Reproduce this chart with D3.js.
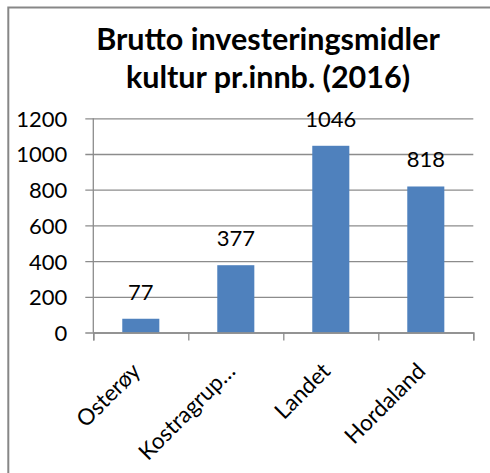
<!DOCTYPE html>
<html>
<head>
<meta charset="utf-8">
<script src="https://cdn.jsdelivr.net/npm/d3@7"></script>
<style>
  body { margin: 0; background: #fff; }
  text { font-family: Lato, "Liberation Sans", sans-serif; fill: #000; }
</style>
</head>
<body>
<div id="chart"></div>
<script>
var categories = ["Osterøy", "Kostragrup…", "Landet", "Hordaland"];
var values = [77, 377, 1046, 818];
var yTicks = [0, 200, 400, 600, 800, 1000, 1200];
var titleLines = ["Brutto investeringsmidler", "kultur pr.innb. (2016)"];

var W = 490, H = 473;
var margin = { top: 118.3, left: 93.3 };
var width = 380, height = 214.2;

var svg = d3.select("#chart").append("svg")
  .attr("width", W)
  .attr("height", H);

// outer frame (runs past the right/bottom edge)
svg.append("rect")
  .attr("x", 8.3).attr("y", 7.5)
  .attr("width", 600).attr("height", 600)
  .attr("fill", "none")
  .attr("stroke", "#878787")
  .attr("stroke-width", 2);

svg.selectAll(".title").data(titleLines).enter().append("text")
  .attr("class", "title")
  .attr("x", 268)
  .attr("y", function(d, i) { return 50 + i * 38; })
  .attr("text-anchor", "middle")
  .style("font-weight", "bold")
  .style("font-size", "30.5px")
  .text(function(d) { return d; });

var g = svg.append("g")
  .attr("transform", "translate(" + margin.left + "," + margin.top + ")");

var y = d3.scaleLinear().domain([0, 1200]).range([height, 0]);
var x = d3.scaleBand().domain(categories).range([0, width])
  .paddingInner(0.61).paddingOuter(0.305);

// y axis with gridlines
var yAxis = d3.axisLeft(y).tickValues(yTicks).tickSize(-width).tickPadding(26)
  .tickFormat(d3.format("d"));
var yG = g.append("g").call(yAxis);
yG.select(".domain").remove();
yG.selectAll(".tick line")
  .attr("x1", -8)
  .attr("stroke", "#8c8c8c")
  .attr("stroke-width", 1.3);
yG.selectAll(".tick text")
  .style("font-size", "22px")
  .attr("dy", "0.36em");

// vertical axis line
g.append("line")
  .attr("x1", 0).attr("x2", 0)
  .attr("y1", 0).attr("y2", height)
  .attr("stroke", "#8c8c8c")
  .attr("stroke-width", 1.3);

// bars
g.selectAll(".bar").data(values).enter().append("rect")
  .attr("class", "bar")
  .attr("x", function(d, i) { return x(categories[i]); })
  .attr("width", x.bandwidth())
  .attr("y", function(d) { return y(d); })
  .attr("height", function(d) { return height - y(d); })
  .attr("fill", "#4f81bd");

// value labels
g.selectAll(".val").data(values).enter().append("text")
  .attr("class", "val")
  .attr("x", function(d, i) { return x(categories[i]) + x.bandwidth() / 2; })
  .attr("y", function(d) { return y(d) - 19; })
  .attr("text-anchor", "middle")
  .style("font-size", "22px")
  .text(function(d) { return d; });

// x axis with ticks between categories
var xb = d3.scaleLinear().domain([0, categories.length]).range([0, width]);
var xAxis = d3.axisBottom(xb).tickValues(d3.range(categories.length + 1))
  .tickSize(8).tickFormat("");
var xG = g.append("g")
  .attr("transform", "translate(0," + height + ")")
  .call(xAxis);
xG.select(".domain").attr("stroke", "#8c8c8c").attr("stroke-width", 1.3);
xG.selectAll(".tick line").attr("stroke", "#8c8c8c").attr("stroke-width", 1.3);

// rotated category labels
g.selectAll(".cat").data(categories).enter().append("text")
  .attr("class", "cat")
  .attr("transform", function(d) {
    return "translate(" + (x(d) + x.bandwidth() / 2 + 1) + "," + (height + 40) + ") rotate(-45)";
  })
  .attr("text-anchor", "end")
  .style("font-size", "22.5px")
  .text(function(d) { return d; });
</script>
</body>
</html>
